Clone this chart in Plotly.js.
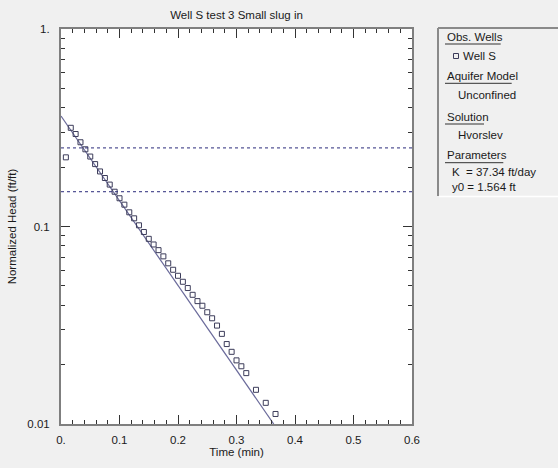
<!DOCTYPE html>
<html>
<head>
<meta charset="utf-8">
<script src="https://cdn.plot.ly/plotly-3.0.1.min.js"></script>
<style>
html,body{margin:0;padding:0;background:#f0f0f0;}
#chart{width:558px;height:468px;}
</style>
</head>
<body>
<div id="chart"></div>
<script>
// ---- data ----
const time = [0.0083, 0.0167, 0.025, 0.0333, 0.0417, 0.05, 0.0583, 0.0667, 0.075, 0.0833,
  0.0917, 0.1, 0.1083, 0.1167, 0.125, 0.1333, 0.1417, 0.15, 0.1583, 0.1667,
  0.175, 0.1833, 0.1917, 0.2, 0.2083, 0.2167, 0.225, 0.2333, 0.2417, 0.25,
  0.2583, 0.2667, 0.275, 0.2833, 0.2917, 0.3, 0.3083, 0.3167, 0.3333, 0.35, 0.3667];
const head = [0.224, 0.316, 0.294, 0.267, 0.246, 0.226, 0.207, 0.190, 0.176, 0.163,
  0.150, 0.139, 0.129, 0.118, 0.110, 0.1014, 0.0938, 0.0866, 0.0811, 0.0759,
  0.0706, 0.0651, 0.0604, 0.0563, 0.0525, 0.0488, 0.0451, 0.0419, 0.0397, 0.0368,
  0.0343, 0.0315, 0.0286, 0.0254, 0.0232, 0.0210, 0.0196, 0.0181, 0.0149, 0.0128, 0.01124];
const fitTime = [0, 0.3636];
const fitHead = [0.3626, 0.01];
const refLevels = [0.25, 0.15];
const xRange = [0, 0.6];
const xTickVals = [0, 0.1, 0.2, 0.3, 0.4, 0.5, 0.6];
const xTickText = ["0.", "0.1", "0.2", "0.3", "0.4", "0.5", "0.6"];
const yTickVals = [0.01, 0.1, 1];
const yTickText = ["0.01", "0.1", "1."];
const yMinorVals = [0.02, 0.03, 0.04, 0.05, 0.06, 0.07, 0.08, 0.09, 0.2, 0.3, 0.4, 0.5, 0.6, 0.7, 0.8, 0.9];
const chartTitle = "Well S test 3 Small slug in";
const xTitle = "Time (min)";
const yTitle = "Normalized Head (ft/ft)";
const panelItems = [
  {head: "Obs. Wells", body: "Well S"},
  {head: "Aquifer Model", body: "Unconfined"},
  {head: "Solution", body: "Hvorslev"},
  {head: "Parameters", body: "K  = 37.34 ft/day<br>y0 = 1.564 ft"}
];

// ---- layout helpers (pixel -> paper) ----
const W = 558, H = 468;
const M = {l: 61, r: 146, t: 29, b: 44};
const PW = W - M.l - M.r, PH = H - M.t - M.b;
const px = v => (v - M.l) / PW;
const py = v => (H - M.b - v) / PH;

const FONT = "Liberation Sans, Arial, sans-serif";
const FS = 11.5;

const traces = [
  {x: fitTime, y: fitHead, mode: "lines", type: "scatter",
   line: {color: "#6a6a9a", width: 1.2}, hoverinfo: "skip", showlegend: false},
  {x: time, y: head, mode: "markers", type: "scatter",
   marker: {symbol: "square-open", size: 5, color: "#3c3c5a", line: {width: 1, color: "#3c3c5a"}},
   showlegend: false}
];

const shapes = refLevels.map(v => ({
  type: "line", xref: "x", yref: "y", x0: xRange[0], x1: xRange[1], y0: v, y1: v,
  line: {color: "#2a2a7a", width: 1, dash: "dot"}
}));

const annotations = [];
// side panel
shapes.push({type: "rect", xref: "paper", yref: "paper", x0: px(438), x1: px(570), y0: py(196), y1: py(28),
  fillcolor: "#f0f0f0", line: {width: 0}, layer: "below"});
shapes.push({type: "line", xref: "paper", yref: "paper", x0: px(438), x1: px(438), y0: py(196), y1: py(28),
  line: {color: "#8a8a8a", width: 2}});
shapes.push({type: "line", xref: "paper", yref: "paper", x0: px(438), x1: px(570), y0: py(28), y1: py(28),
  line: {color: "#8a8a8a", width: 2}});
shapes.push({type: "line", xref: "paper", yref: "paper", x0: px(439), x1: px(570), y0: py(196.5), y1: py(196.5),
  line: {color: "#ffffff", width: 1.5}});

const headY = [37.3, 76, 116.7, 155];
const ulY = [44, 83.3, 124, 162.7];
const ulX1 = [500.7, 511.7, 484, 503.3];
const bodyY = [56, 95, 135, 179.7];
const bodyX = [461, 455.5, 455.5, 450];
panelItems.forEach((it, i) => {
  annotations.push({text: it.head, xref: "paper", yref: "paper", x: px(444.5), y: py(headY[i]),
    xanchor: "left", yanchor: "middle", showarrow: false, font: {family: FONT, size: FS, color: "#1a1a1a"}});
  shapes.push({type: "line", xref: "paper", yref: "paper", x0: px(445), x1: px(ulX1[i]), y0: py(ulY[i]), y1: py(ulY[i]),
    line: {color: "#333333", width: 1}});
  annotations.push({text: it.body, xref: "paper", yref: "paper", x: px(bodyX[i]), y: py(bodyY[i]),
    xanchor: "left", yanchor: "middle", align: "left", showarrow: false,
    font: {family: FONT, size: FS, color: "#1a1a1a"}});
});
// legend square symbol
shapes.push({type: "rect", xref: "paper", yref: "paper", x0: px(453.5), x1: px(458.5), y0: py(58.5), y1: py(53.5),
  line: {color: "#3c3c5a", width: 1}, fillcolor: "rgba(0,0,0,0)"});

const layout = {
  width: W, height: H,
  margin: M,
  paper_bgcolor: "#f0f0f0",
  plot_bgcolor: "#ffffff",
  font: {family: FONT, size: FS, color: "#1a1a1a"},
  title: {text: chartTitle, xref: "paper", x: 0.5, xanchor: "center", yref: "container", y: 1 - 15 / H, yanchor: "middle",
    font: {family: FONT, size: FS, color: "#1a1a1a"}},
  xaxis: {
    range: xRange, tickmode: "array", tickvals: xTickVals, ticktext: xTickText,
    ticks: "inside", ticklen: 9, tickwidth: 1, tickcolor: "#333",
    minor: {tickmode: "linear", tick0: 0, dtick: 0.02, ticks: "inside", ticklen: 4, tickwidth: 1, tickcolor: "#333"},
    showline: true, linecolor: "#7f7f7f", linewidth: 2, mirror: "ticks",
    showgrid: false, zeroline: false, ticklabelstandoff: 4,
    tickfont: {family: FONT, size: FS, color: "#1a1a1a"},
    title: {text: xTitle, standoff: 3, font: {family: FONT, size: FS, color: "#1a1a1a"}}
  },
  yaxis: {
    type: "log", range: [-2, 0], tickmode: "array", tickvals: yTickVals, ticktext: yTickText,
    ticks: "inside", ticklen: 9, tickwidth: 1, tickcolor: "#333",
    minor: {tickmode: "array", tickvals: yMinorVals, ticks: "inside", ticklen: 4, tickwidth: 1, tickcolor: "#333"},
    showline: true, linecolor: "#7f7f7f", linewidth: 2, mirror: "ticks",
    showgrid: false, zeroline: false, ticklabelstandoff: 7,
    tickfont: {family: FONT, size: FS, color: "#1a1a1a"},
    title: {text: yTitle, standoff: 8, font: {family: FONT, size: FS, color: "#1a1a1a"}}
  },
  shapes: shapes,
  annotations: annotations,
  showlegend: false
};

Plotly.newPlot("chart", traces, layout, {displayModeBar: false, staticPlot: true});
</script>
</body>
</html>
